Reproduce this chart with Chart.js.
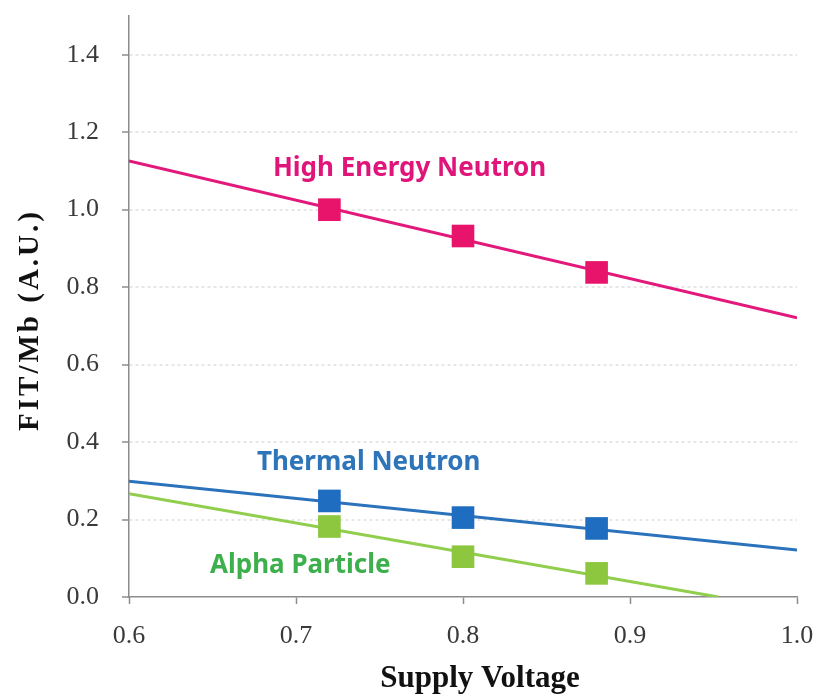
<!DOCTYPE html>
<html>
<head>
<meta charset="utf-8">
<script src="https://cdn.jsdelivr.net/npm/chart.js@4.4.0/dist/chart.umd.min.js"></script>
<style>
  html, body { margin: 0; padding: 0; background: #ffffff; }
  #wrap { width: 821px; height: 699px; position: relative; }
</style>
</head>
<body>
<div id="wrap"><canvas id="chart"></canvas></div>
<script>
// Measured soft-error rates (FIT/Mb, arbitrary units) versus supply voltage
const voltages = [0.72, 0.80, 0.88];
const highEnergyNeutron = [1.000, 0.932, 0.838];
const thermalNeutron = [0.248, 0.205, 0.177];
const alphaParticle = [0.182, 0.104, 0.061];
const seriesNames = ['High Energy Neutron', 'Thermal Neutron', 'Alpha Particle'];

const xTicks = [0.6, 0.7, 0.8, 0.9, 1.0];
const yTicks = [0.0, 0.2, 0.4, 0.6, 0.8, 1.0, 1.2, 1.4];
const xRange = [0.6, 1.0];
const yRange = [0, 1.5];

const colors = [
  { line: '#E2187A', marker: '#E8146C', text: '#E0157A' },
  { line: '#2B72BC', marker: '#1E6DC0', text: '#2E74B8' },
  { line: '#92CE4E', marker: '#8DC63F', text: '#3DAF4C' }
];

// Least-squares trend line across the plotted voltage range, stopping at y = 0
function trendLine(xs, ys) {
  const n = xs.length;
  const mx = xs.reduce((a, b) => a + b, 0) / n;
  const my = ys.reduce((a, b) => a + b, 0) / n;
  let sxy = 0, sxx = 0;
  for (let i = 0; i < n; i++) {
    sxy += (xs[i] - mx) * (ys[i] - my);
    sxx += (xs[i] - mx) * (xs[i] - mx);
  }
  const slope = sxy / sxx;
  const icept = my - slope * mx;
  let x1 = xRange[1];
  if (icept + slope * x1 < 0) x1 = -icept / slope;
  return [
    { x: xRange[0], y: icept + slope * xRange[0] },
    { x: x1, y: icept + slope * x1 }
  ];
}

const seriesValues = [highEnergyNeutron, thermalNeutron, alphaParticle];
const datasets = [];
seriesValues.forEach((vals, i) => {
  datasets.push({
    label: seriesNames[i],
    data: voltages.map((v, k) => ({ x: v, y: vals[k] })),
    showLine: false,
    pointStyle: 'rect',
    pointRadius: 16,
    pointBackgroundColor: colors[i].marker,
    pointBorderWidth: 0,
    order: 0
  });
  datasets.push({
    label: seriesNames[i] + ' trend',
    data: trendLine(voltages, vals),
    showLine: true,
    borderColor: colors[i].line,
    borderWidth: 3,
    pointRadius: 0,
    order: 1
  });
});

const serif = "'Liberation Serif', 'Times New Roman', serif";
const sans = "'Noto Sans', 'Open Sans', sans-serif";

// Series names written next to their curves, and the two axis titles
const annotate = {
  id: 'annotate',
  afterDraw(chart) {
    const { ctx, scales: { x, y } } = chart;
    const labels = [
      { text: seriesNames[0], x: 0.6862, y: 1.088, color: colors[0].text },
      { text: seriesNames[1], x: 0.6766, y: 0.329, color: colors[1].text },
      { text: seriesNames[2], x: 0.6485, y: 0.063, color: colors[2].text }
    ];
    ctx.save();
    ctx.font = 'bold 26px ' + sans;
    ctx.textAlign = 'left';
    ctx.textBaseline = 'alphabetic';
    labels.forEach(l => {
      ctx.fillStyle = l.color;
      ctx.fillText(l.text, x.getPixelForValue(l.x), y.getPixelForValue(l.y));
    });

    ctx.fillStyle = '#111111';
    ctx.textBaseline = 'middle';
    ctx.font = 'bold 31px ' + serif;
    ctx.textAlign = 'center';
    ctx.fillText('Supply Voltage', 480, 679);

    ctx.translate(31, 320);
    ctx.rotate(-Math.PI / 2);
    ctx.font = 'bold 29px ' + serif;
    ctx.letterSpacing = '3px';
    ctx.fillText('FIT/Mb (A.U.)', 0, 0);
    ctx.restore();
  }
};

new Chart(document.getElementById('chart'), {
  type: 'scatter',
  data: { datasets },
  plugins: [annotate],
  options: {
    responsive: true,
    maintainAspectRatio: false,
    animation: false,
    layout: { padding: { left: 0, right: 24, top: 4, bottom: 0 } },
    plugins: { legend: { display: false }, tooltip: { enabled: false } },
    scales: {
      x: {
        type: 'linear',
        min: xRange[0],
        max: xRange[1],
        afterBuildTicks: s => { s.ticks = xTicks.map(v => ({ value: v })); },
        afterFit: s => { s.height = 102; s.paddingLeft = 0; s.paddingRight = 0; },
        ticks: {
          callback: v => v.toFixed(1),
          font: { family: serif, size: 26 },
          color: '#3a3a3a',
          padding: 17,
          maxRotation: 0
        },
        grid: { drawOnChartArea: false, drawTicks: true, tickLength: 7, tickColor: '#8c8c8c', tickWidth: 1.5 },
        border: { color: '#8c8c8c', width: 1.5 }
      },
      y: {
        type: 'linear',
        min: yRange[0],
        max: yRange[1],
        afterBuildTicks: s => { s.ticks = yTicks.map(v => ({ value: v })); },
        afterFit: s => { s.width = 129; s.paddingTop = 0; s.paddingBottom = 0; },
        ticks: {
          callback: v => v.toFixed(1),
          font: { family: serif, size: 26 },
          color: '#3a3a3a',
          padding: 23
        },
        grid: {
          color: c => (c.tick && c.tick.value === 0) ? 'rgba(0,0,0,0)' : '#e6e6e6',
          lineWidth: 2,
          drawTicks: true,
          tickLength: 7,
          tickColor: '#8c8c8c',
          tickWidth: 1.5,
          tickBorderDash: []
        },
        border: { color: '#8c8c8c', width: 1.5, dash: [3, 3] }
      }
    }
  }
});
</script>
</body>
</html>
